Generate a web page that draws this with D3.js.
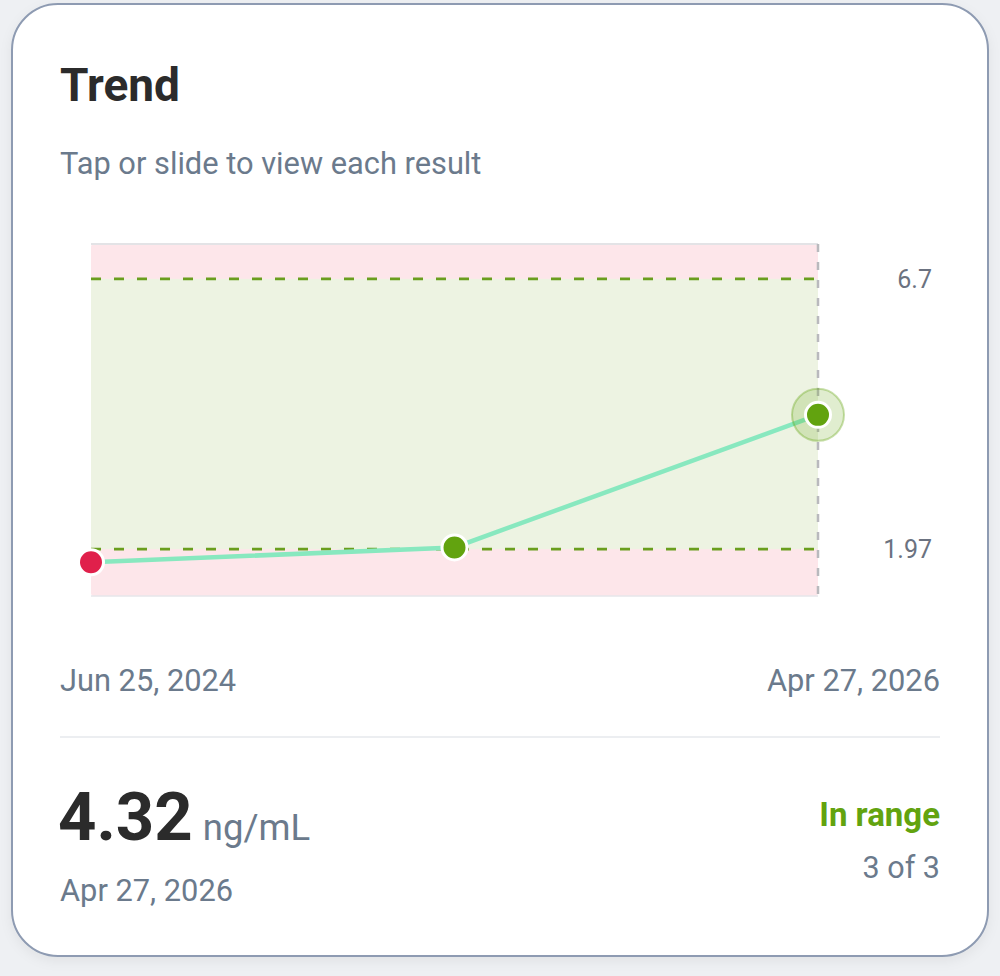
<!DOCTYPE html>
<html>
<head>
<meta charset="utf-8">
<script src="https://cdn.jsdelivr.net/npm/d3@7"></script>
<style>
  html, body { margin: 0; padding: 0; background: #eef0f3; }
  svg { display: block; font-family: Roboto, "Noto Sans", sans-serif; }
</style>
</head>
<body>
<svg id="chart" width="1000" height="976"></svg>
<script>
// ---- data ----
const dates = ["Jun 25, 2024", "May 26, 2025", "Apr 27, 2026"];
const values = [1.74, 2.00, 4.32];
const statuses = ["low", "in", "in"];
const rangeLow = 1.97;
const rangeHigh = 6.7;
const yDomain = [1.15, 7.31];
const unit = "ng/mL";
const selectedIndex = 2;

// ---- styles ----
const C = {
  red: "#e0204b", green: "#62a30f", line: "#88e8bf",
  bandRed: "#fde6ea", bandGreen: "#edf3e2", text: "#2b2b2b", sub: "#6b7a8c"
};

const svg = d3.select("#chart");
const defs = svg.append("defs");
const f = defs.append("filter").attr("id", "sh").attr("x", "-10%").attr("y", "-10%").attr("width", "120%").attr("height", "120%");
f.append("feDropShadow").attr("dx", 0).attr("dy", 4).attr("stdDeviation", 6).attr("flood-color", "#000").attr("flood-opacity", 0.06);

// card
svg.append("rect").attr("x", 12).attr("y", 4).attr("width", 976).attr("height", 952)
  .attr("rx", 46).attr("fill", "#fff").attr("stroke", "#8e9bb2").attr("stroke-width", 2)
  .attr("filter", "url(#sh)");

svg.append("text").attr("x", 60).attr("y", 101).attr("font-size", 46).attr("font-weight", 700)
  .attr("fill", C.text).text("Trend");
svg.append("text").attr("x", 60).attr("y", 174).attr("font-size", 30.8)
  .attr("fill", C.sub).text("Tap or slide to view each result");

// scales
const x = d3.scalePoint().domain(d3.range(dates.length)).range([91, 818]);
const y = d3.scaleLinear().domain(yDomain).range([596, 244]);
const [x0, x1] = x.range();

const g = svg.append("g");
// bands
g.append("rect").attr("x", x0).attr("width", x1 - x0).attr("y", y(yDomain[1])).attr("height", y(yDomain[0]) - y(yDomain[1]))
  .attr("rx", 3).attr("fill", C.bandRed);
g.append("rect").attr("x", x0).attr("width", x1 - x0).attr("y", y(rangeHigh)).attr("height", y(rangeLow) - y(rangeHigh))
  .attr("fill", C.bandGreen);
// top & bottom border
g.append("line").attr("x1", x0).attr("x2", x1).attr("y1", y(yDomain[1])).attr("y2", y(yDomain[1]))
  .attr("stroke", "#e3e3e6").attr("stroke-width", 2);
g.append("line").attr("x1", x0).attr("x2", x1).attr("y1", y(yDomain[0])).attr("y2", y(yDomain[0]))
  .attr("stroke", "#e6e6ea").attr("stroke-width", 1.5);

// range lines
[rangeHigh, rangeLow].forEach(v => {
  g.append("line").attr("x1", x0).attr("x2", x1).attr("y1", y(v)).attr("y2", y(v))
    .attr("stroke", "#6a9e1e").attr("stroke-width", 2.8).attr("stroke-dasharray", "10,13");
  svg.append("text").attr("x", 932).attr("y", y(v)).attr("dy", "0.35em").attr("text-anchor", "end")
    .attr("font-size", 25).attr("fill", "#6b7280").text(String(v));
});

// selected vertical dashed line
g.append("line").attr("x1", x(selectedIndex)).attr("x2", x(selectedIndex))
  .attr("y1", y(yDomain[1])).attr("y2", y(yDomain[0]))
  .attr("stroke", "#b9b9bd").attr("stroke-width", 2.5).attr("stroke-dasharray", "8,10");

// line
g.append("path").datum(values)
  .attr("d", d3.line().x((d, i) => x(i)).y(d => y(d)))
  .attr("fill", "none").attr("stroke", C.line).attr("stroke-width", 4.5);

// halo
g.append("circle").attr("cx", x(selectedIndex)).attr("cy", y(values[selectedIndex])).attr("r", 26)
  .attr("fill", "rgba(98,163,15,0.2)").attr("stroke", "rgba(98,163,15,0.35)").attr("stroke-width", 2);

// points
g.selectAll("circle.pt").data(values).join("circle").attr("class", "pt")
  .attr("cx", (d, i) => x(i)).attr("cy", d => y(d)).attr("r", 12.5)
  .attr("fill", (d, i) => statuses[i] === "low" ? C.red : C.green)
  .attr("stroke", "#fff").attr("stroke-width", 3);

// date labels
svg.append("text").attr("x", 60).attr("y", 691).attr("font-size", 30.8).attr("fill", C.sub).text(dates[0]);
svg.append("text").attr("x", 940).attr("y", 691).attr("text-anchor", "end").attr("font-size", 30.8).attr("fill", C.sub).text(dates[dates.length - 1]);

// divider
svg.append("line").attr("x1", 60).attr("x2", 940).attr("y1", 737).attr("y2", 737).attr("stroke", "#e6e8ec").attr("stroke-width", 1.5);

// value summary
const vt = svg.append("text").attr("x", 58).attr("y", 840);
vt.append("tspan").attr("font-size", 67).attr("font-weight", 700).attr("fill", C.text).text(values[selectedIndex].toFixed(2));
vt.append("tspan").attr("dx", 10).attr("font-size", 36.5).attr("fill", C.sub).text(unit);
svg.append("text").attr("x", 60).attr("y", 901).attr("font-size", 30.8).attr("fill", C.sub).text(dates[selectedIndex]);

svg.append("text").attr("x", 940).attr("y", 826).attr("text-anchor", "end").attr("font-size", 33).attr("font-weight", 700)
  .attr("fill", C.green).text("In range");
svg.append("text").attr("x", 940).attr("y", 878).attr("text-anchor", "end").attr("font-size", 30.5)
  .attr("fill", C.sub).text(`${selectedIndex + 1} of ${values.length}`);
</script>
</body>
</html>
